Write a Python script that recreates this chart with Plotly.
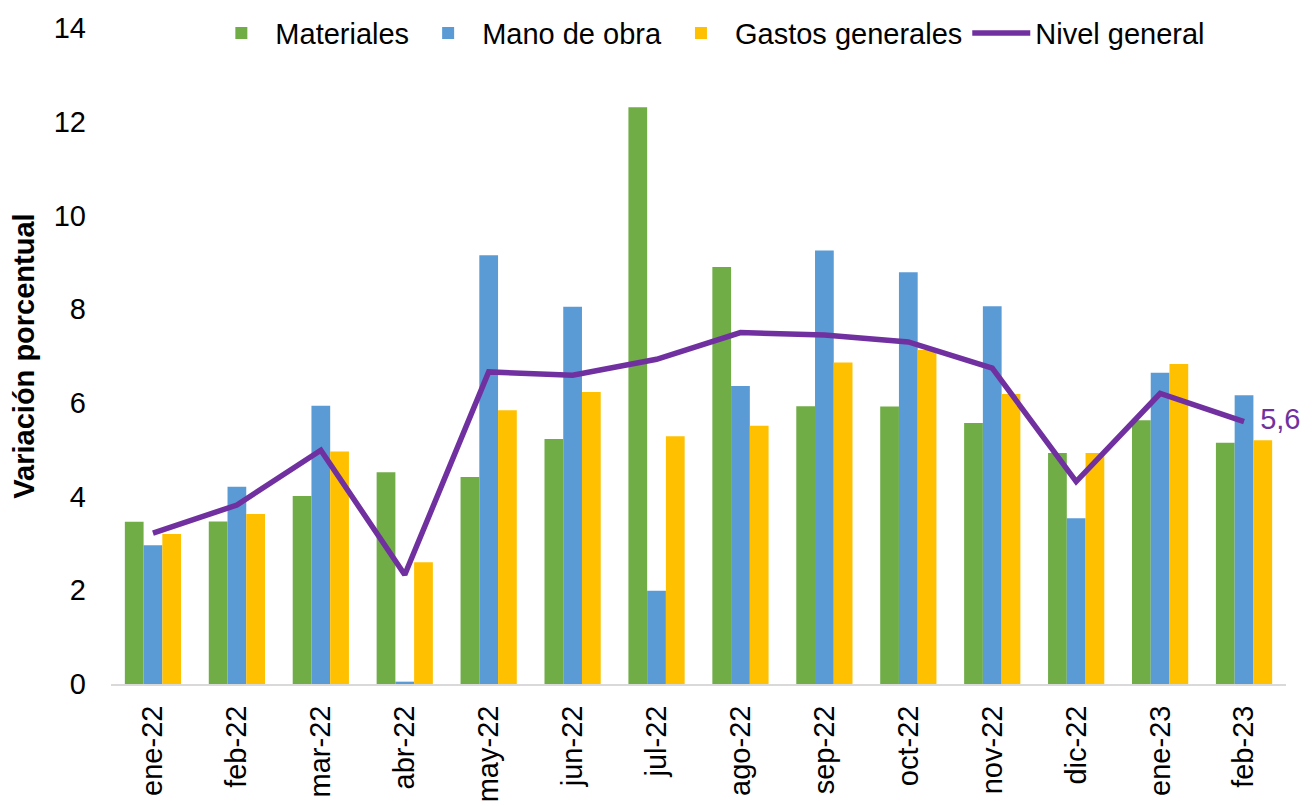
import plotly.graph_objects as go

meses = ["ene-22", "feb-22", "mar-22", "abr-22", "may-22", "jun-22", "jul-22",
         "ago-22", "sep-22", "oct-22", "nov-22", "dic-22", "ene-23", "feb-23"]
materiales = [3.46, 3.47, 4.01, 4.52, 4.42, 5.23, 12.31, 8.90, 5.93, 5.92, 5.57, 4.93, 5.63, 5.15]
mano_obra = [2.96, 4.21, 5.94, 0.05, 9.15, 8.05, 1.99, 6.36, 9.25, 8.79, 8.06, 3.54, 6.64, 6.16]
gastos = [3.20, 3.63, 4.96, 2.60, 5.84, 6.23, 5.29, 5.51, 6.86, 7.13, 6.19, 4.93, 6.83, 5.20]
nivel = [3.22, 3.82, 4.99, 2.33, 6.66, 6.59, 6.93, 7.50, 7.45, 7.30, 6.74, 4.32, 6.20, 5.60]
etiqueta_final = "5,6"

FONT = "Liberation Sans, Arial, sans-serif"
FS = 29

fig = go.Figure()
fig.add_trace(go.Bar(x=meses, y=materiales, name="Materiales", marker_color="#70AD47",
                     marker_line_width=0))
fig.add_trace(go.Bar(x=meses, y=mano_obra, name="Mano de obra", marker_color="#5B9BD5",
                     marker_line_width=0))
fig.add_trace(go.Bar(x=meses, y=gastos, name="Gastos generales", marker_color="#FFC000",
                     marker_line_width=0))
labels = [""] * (len(meses) - 1) + ["  " + etiqueta_final]
fig.add_trace(go.Scatter(x=meses, y=nivel, name="Nivel general", mode="lines+text",
                         line=dict(color="#7030A0", width=5.5),
                         text=labels, textposition="middle right",
                         textfont=dict(color="#7030A0", size=FS, family=FONT),
                         cliponaxis=False))

fig.update_layout(
    width=1313, height=806,
    margin=dict(l=103, r=35, t=20, b=130, autoexpand=False),
    plot_bgcolor="white", paper_bgcolor="white",
    barmode="group", bargap=0.33, bargroupgap=0,
    font=dict(family=FONT, size=FS, color="black"),
    legend=dict(orientation="h", x=0.082, y=0.992, xanchor="left", yanchor="middle",
                font=dict(size=FS, family=FONT), itemwidth=58, traceorder="normal",
                bgcolor="rgba(0,0,0,0)"),
    showlegend=True,
)
fig.update_xaxes(range=[-0.5, len(meses) - 0.5], autorange=False, automargin=False,
                 showgrid=False, showline=True, linecolor="#D9D9D9", linewidth=2,
                 tickangle=-90, ticks="", ticklabelstandoff=8,
                 tickfont=dict(size=FS, family=FONT))
fig.update_yaxes(range=[0, 14], dtick=2, showgrid=False, showline=False, zeroline=False,
                 automargin=False, ticks="", ticklabelstandoff=24,
                 tickfont=dict(size=FS, family=FONT),
                 title=dict(text="<b>Variación porcentual</b>", font=dict(size=FS, family=FONT),
                            standoff=13))

fig.write_html("out.html")
